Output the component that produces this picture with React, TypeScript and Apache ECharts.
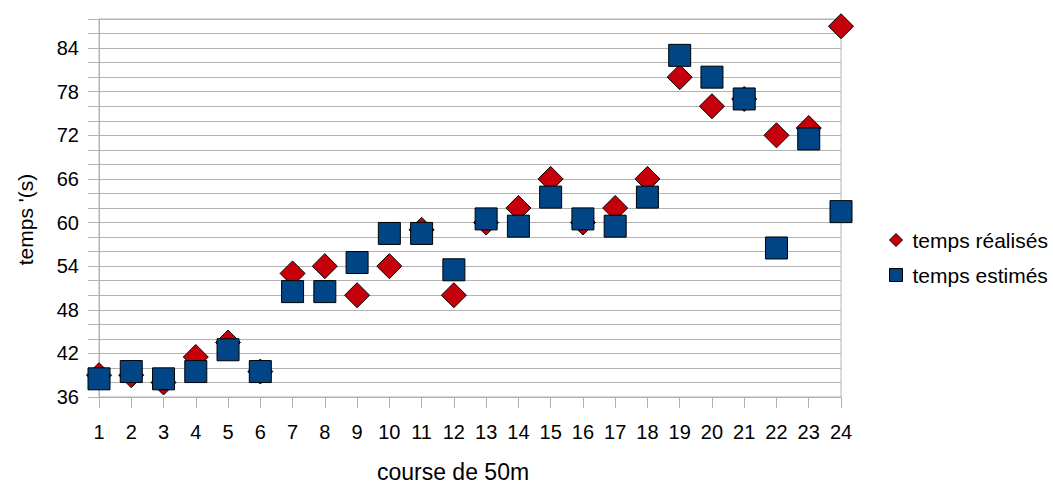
import React, { useEffect, useRef } from "react";
import * as echarts from "echarts";

const courses = [1, 2, 3, 4, 5, 6, 7, 8, 9, 10, 11, 12, 13, 14, 15, 16, 17, 18, 19, 20, 21, 22, 23, 24];
const tempsRealises = [39, 39, 38, 41.5, 43.5, 39.5, 53, 54, 50, 54, 59, 50, 60, 62, 66, 60, 62, 66, 80, 76, 77, 72, 73, 87];
const tempsEstimes = [38.5, 39.5, 38.5, 39.5, 42.5, 39.5, 50.5, 50.5, 54.5, 58.5, 58.5, 53.5, 60.5, 59.5, 63.5, 60.5, 59.5, 63.5, 83, 80, 77, 56.5, 71.5, 61.5];
const yLabels = [36, 42, 48, 54, 60, 66, 72, 78, 84];

const FONT = "Liberation Sans";
const RED = "#c5000b";
const BLUE = "#004586";
const GRID = "#b3b3b3";

export default function App() {
  const ref = useRef<HTMLDivElement>(null);
  useEffect(() => {
    if (!ref.current) return;
    const chart = echarts.init(ref.current, null, { renderer: "svg" });
    chart.setOption({
      animation: false,
      backgroundColor: "#ffffff",
      textStyle: { fontFamily: FONT },
      grid: {
        left: 99,
        width: 742,
        top: 19,
        height: 386,
        show: true,
        borderColor: GRID,
        borderWidth: 1,
        backgroundColor: "transparent",
      },
      legend: {
        orient: "vertical",
        left: 884,
        top: 224,
        itemWidth: 13,
        itemHeight: 13,
        itemGap: 13,
        textStyle: { fontFamily: FONT, fontSize: 21, color: "#000", lineHeight: 22, padding: [0, 0, 0, 5] },
        data: [
          { name: "temps réalisés", icon: "diamond", itemStyle: { color: RED, borderColor: "#000", borderWidth: 1 } },
          { name: "temps estimés", icon: "rect", itemStyle: { color: BLUE, borderColor: "#000", borderWidth: 1 } },
        ],
      },
      xAxis: {
        type: "value",
        min: 1,
        max: 24,
        interval: 1,
        name: "course de 50m",
        nameLocation: "middle",
        nameGap: 63,
        nameTextStyle: { fontFamily: FONT, fontSize: 23, color: "#000", padding: [0, 34, 0, 0] },
        axisLine: { show: true, lineStyle: { color: GRID, width: 1 } },
        axisTick: { show: true, length: 11, lineStyle: { color: GRID } },
        axisLabel: { fontFamily: FONT, fontSize: 20, color: "#000", margin: 25 },
        splitLine: { show: false },
      },
      yAxis: {
        type: "value",
        min: 36,
        max: 88,
        interval: 2,
        name: "temps '(s)",
        nameLocation: "middle",
        nameRotate: 90,
        nameGap: 63,
        nameTextStyle: { fontFamily: FONT, fontSize: 21, color: "#000", padding: [0, 23, 0, 0] },
        axisLine: { show: true, lineStyle: { color: GRID, width: 1 } },
        axisTick: { show: true, length: 11, lineStyle: { color: GRID } },
        axisLabel: {
          fontFamily: FONT,
          fontSize: 20,
          color: "#000",
          margin: 20,
          formatter: (v: number) => (yLabels.indexOf(v) >= 0 ? String(v) : ""),
        },
        splitLine: { show: true, lineStyle: { color: GRID, width: 1 } },
      },
      series: [
        {
          name: "temps réalisés",
          type: "scatter",
          symbol: "diamond",
          symbolSize: 25,
          itemStyle: { color: RED, borderColor: "#000", borderWidth: 1, opacity: 1 },
          data: courses.map((c, i) => [c, tempsRealises[i]]),
          z: 2,
        },
        {
          name: "temps estimés",
          type: "scatter",
          symbol: "rect",
          symbolSize: 22,
          itemStyle: { color: BLUE, borderColor: "#000", borderWidth: 1, opacity: 1 },
          data: courses.map((c, i) => [c, tempsEstimes[i]]),
          z: 3,
        },
      ],
    });
    return () => chart.dispose();
  }, []);
  return (
    <div
      ref={ref}
      style={{ position: "fixed", left: 0, top: 0, width: 1053, height: 488, background: "#fff" }}
    />
  );
}
